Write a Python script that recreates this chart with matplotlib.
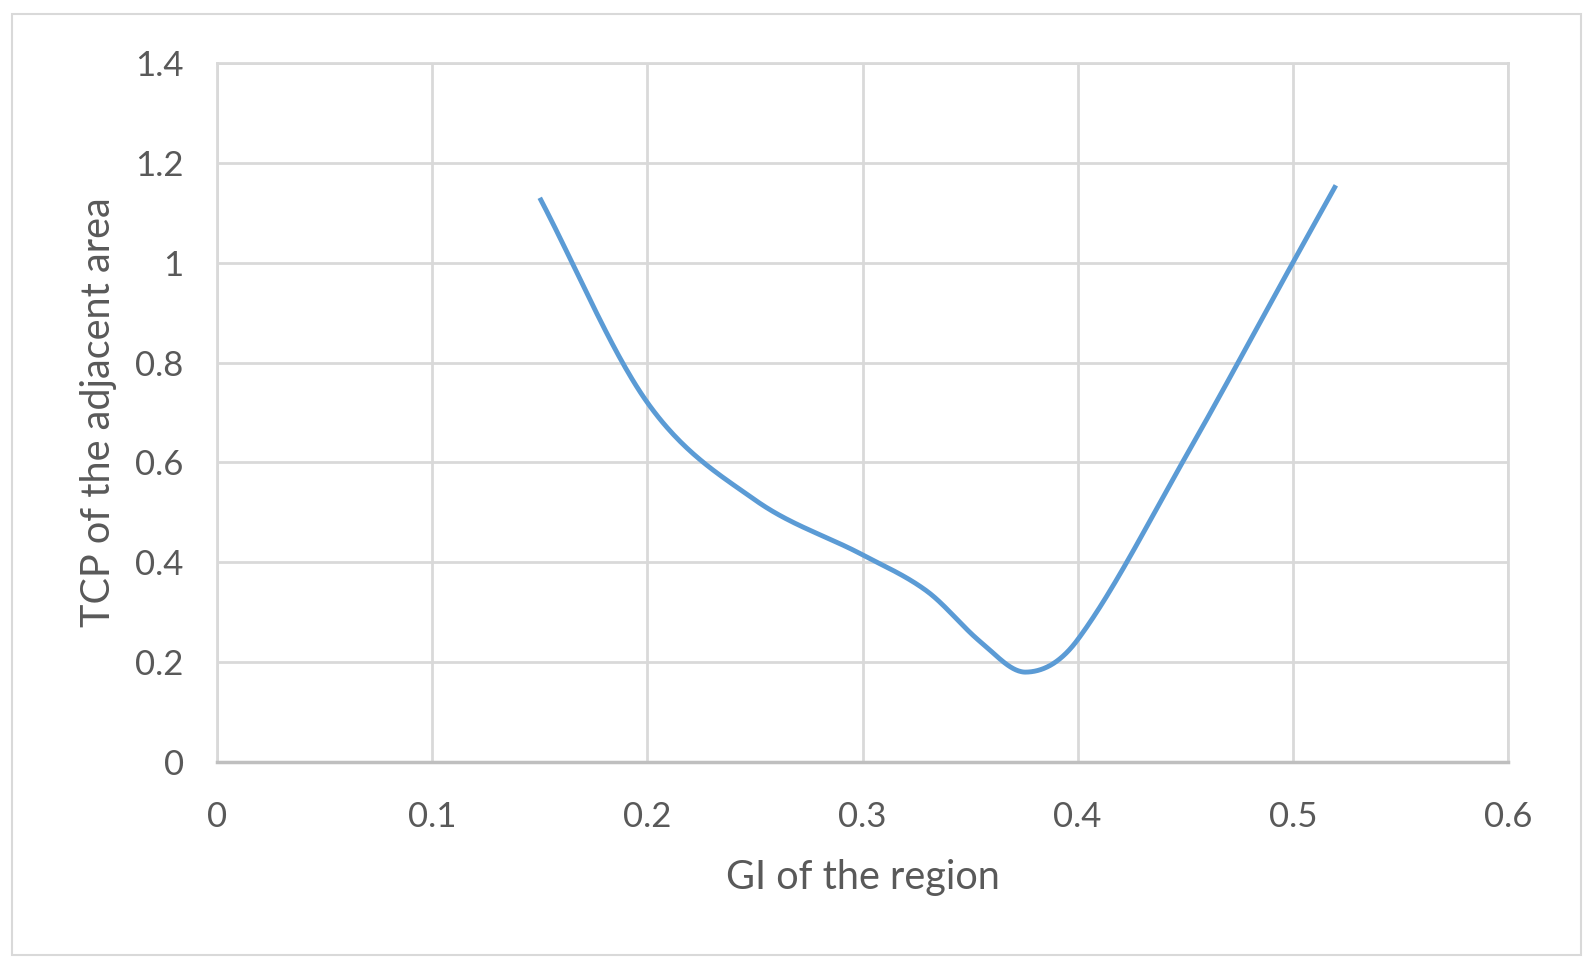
import numpy as np
import matplotlib
matplotlib.use('Agg')
import matplotlib.pyplot as plt
from matplotlib.patches import Rectangle

# values
gi = [0.15, 0.20, 0.25, 0.30, 0.33, 0.355, 0.376, 0.40, 0.45, 0.50, 0.52]
tcp = [1.13, 0.72, 0.525, 0.415, 0.342, 0.24, 0.18, 0.245, 0.61, 1.00, 1.155]
x_ticks = [0, 0.1, 0.2, 0.3, 0.4, 0.5, 0.6]
x_labels = ['0', '0.1', '0.2', '0.3', '0.4', '0.5', '0.6']
y_ticks = [0, 0.2, 0.4, 0.6, 0.8, 1.0, 1.2, 1.4]
y_labels = ['0', '0.2', '0.4', '0.6', '0.8', '1', '1.2', '1.4']

txt = '#595959'
grid = '#d9d9d9'
blue = '#5b9bd5'


def smooth(xs, ys, n=50):
    # smoothed line: cubic hermite, tangents from neighbouring points
    x = np.asarray(xs, float)
    y = np.asarray(ys, float)
    m = np.empty_like(y)
    m[1:-1] = (y[2:] - y[:-2]) / (x[2:] - x[:-2])
    m[0] = (y[1] - y[0]) / (x[1] - x[0])
    m[-1] = (y[-1] - y[-2]) / (x[-1] - x[-2])
    px, py = [], []
    for i in range(len(x) - 1):
        h = x[i + 1] - x[i]
        t = np.linspace(0, 1, n)
        h00 = 2 * t ** 3 - 3 * t ** 2 + 1
        h10 = t ** 3 - 2 * t ** 2 + t
        h01 = -2 * t ** 3 + 3 * t ** 2
        h11 = t ** 3 - t ** 2
        px.append(x[i] + t * h)
        py.append(h00 * y[i] + h10 * h * m[i] + h01 * y[i + 1] + h11 * h * m[i + 1])
    return np.concatenate(px), np.concatenate(py)


plt.rcParams['font.family'] = ['Lato', 'DejaVu Sans']

fig = plt.figure(figsize=(15.93, 9.68), dpi=100)
fig.patches.append(Rectangle((12 / 1593, 1 - 955 / 968), 1569 / 1593, 941 / 968,
                             transform=fig.transFigure, fill=False,
                             edgecolor=grid, lw=1.5))

L, R, T, B = 217, 1508, 63, 762
ax = fig.add_axes([L / 1593, 1 - B / 968, (R - L) / 1593, (B - T) / 968])

sx, sy = smooth(gi, tcp)
ax.plot(sx, sy, color=blue, lw=3.5, solid_capstyle='butt', zorder=3)

ax.set_xlim(0, 0.6)
ax.set_ylim(0, 1.4)
ax.set_xticks(x_ticks)
ax.set_xticklabels(x_labels)
ax.set_yticks(y_ticks)
ax.set_yticklabels(y_labels)
ax.grid(True, color=grid, lw=2)
ax.set_axisbelow(True)
ax.tick_params(length=0, labelsize=25, labelcolor=txt)
ax.tick_params(axis='x', pad=28)
ax.tick_params(axis='y', pad=24)
for s in ['left', 'top', 'right']:
    ax.spines[s].set_color(grid)
    ax.spines[s].set_linewidth(2)
ax.spines['bottom'].set_color('#bfbfbf')
ax.spines['bottom'].set_linewidth(2.5)

fig.text((L + R) / 2 / 1593, 1 - 877 / 968, 'GI of the region',
         ha='center', va='center', fontsize=28.5, color=txt)
fig.text(99 / 1593, 1 - 412 / 968, 'TCP of the adjacent area',
         ha='center', va='center', rotation=90, fontsize=28.5, color=txt)

fig.savefig('out.png', dpi=100)
